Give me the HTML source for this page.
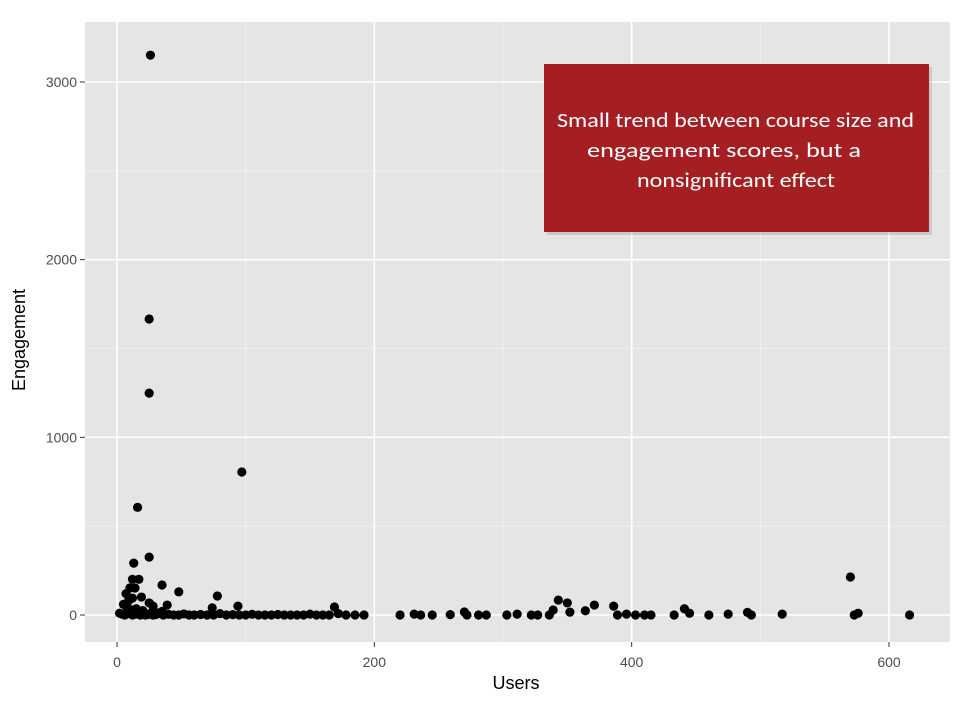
<!DOCTYPE html>
<html><head><meta charset="utf-8">
<style>
html,body{margin:0;padding:0;background:#fff;}
svg{display:block;font-family:"Liberation Sans",Arial,sans-serif;}
</style></head>
<body>
<svg id="chart" width="960" height="720" viewBox="0 0 960 720">
<rect x="85" y="22" width="865" height="620" fill="#e5e5e5"/>
<g id="grid"></g>
<g id="axes"></g>
<g id="points"></g>
<text x="516" y="689" text-anchor="middle" font-size="18" fill="#000">Users</text>
<text transform="translate(25,340) rotate(-90)" text-anchor="middle" font-size="18" fill="#000">Engagement</text>
<g>
<rect x="547" y="67" width="385" height="168" fill="#999" opacity="0.35"/>
<rect x="544" y="64" width="385" height="168" fill="#a51e22"/>
<text x="557" y="127" font-size="21" fill="#fff" textLength="357" lengthAdjust="spacingAndGlyphs" font-family="Carlito,'Liberation Sans',sans-serif">Small trend between course size and</text>
<text x="587" y="157" font-size="21" fill="#fff" textLength="274" lengthAdjust="spacingAndGlyphs" font-family="Carlito,'Liberation Sans',sans-serif">engagement scores, but a</text>
<text x="637" y="187" font-size="21" fill="#fff" textLength="198" lengthAdjust="spacingAndGlyphs" font-family="Carlito,'Liberation Sans',sans-serif">nonsignificant effect</text>
</g>
</svg>
<script>
const xTicks = [0, 200, 400, 600];
const yTicks = [0, 1000, 2000, 3000];
const usersX = [26,25,25,97,16,25,13,12,17,10,14,35,48,78,19,12,25,28,39,35,94,74,169,
  2,4,6,8,10,12,14,16,18,20,22,24,26,28,30,33,36,40,44,48,52,56,60,65,70,75,80,85,90,95,100,105,110,115,120,125,130,135,140,145,150,155,160,165,172,178,185,192,
  5,8,11,9,15,20,30,7,
  220,231,236,245,259,270,272,281,287,303,311,322,327,336,339,343,350,352,364,371,386,389,396,403,410,415,433,441,445,460,475,490,493,517,570,573,576,616];
const engagementY = [3151,1666,1249,805,606,326,292,201,201,152,152,169,130,107,101,95,68,50,56,20,50,40,45,
  10,5,0,8,20,0,5,12,0,6,0,3,10,0,2,8,0,4,0,0,6,0,0,3,0,0,8,0,2,0,0,4,0,0,0,3,0,0,0,0,5,0,0,0,8,0,0,0,
  60,40,30,80,35,25,15,120,
  0,5,0,0,2,17,0,0,0,0,5,0,0,0,28,84,68,16,24,56,50,0,5,0,0,0,0,35,10,0,5,15,0,5,214,0,10,0];
const px0=85, px1=950, py0=22, py1=642;
function xs(v){ return 117 + v*(889-117)/600; }
function ys(v){ return 615 - v*(615-82)/3000; }
const NS="http://www.w3.org/2000/svg";
const grid=document.getElementById('grid'), axes=document.getElementById('axes'), pts=document.getElementById('points');
function mk(tag,attrs,parent){const e=document.createElementNS(NS,tag);for(const k in attrs)e.setAttribute(k,attrs[k]);parent.appendChild(e);return e;}
for(let i=0;i<xTicks.length-1;i++){const v=(xTicks[i]+xTicks[i+1])/2;
  const l=mk('line',{x1:xs(v),x2:xs(v),y1:py0,y2:py1,stroke:'#f2f2f2','stroke-width':0.8},grid);
  
  }
for(let i=0;i<yTicks.length-1;i++){const v=(yTicks[i]+yTicks[i+1])/2;
  const l=mk('line',{x1:px0,x2:px1,y1:ys(v),y2:ys(v),stroke:'#f2f2f2','stroke-width':0.8},grid);
  
  }
xTicks.forEach(v=>{
  const l=mk('line',{x1:xs(v),x2:xs(v),y1:py0,y2:py1,stroke:'#fff','stroke-width':1.6},grid);
  
  
  mk('line',{x1:xs(v),x2:xs(v),y1:py1,y2:py1+5,stroke:'#333','stroke-width':1},axes);
  const t=mk('text',{x:xs(v),y:py1+25,'text-anchor':'middle','font-size':14,fill:'#4d4d4d'},axes);
  t.textContent=v;
  
  
});
yTicks.forEach(v=>{
  const l=mk('line',{x1:px0,x2:px1,y1:ys(v),y2:ys(v),stroke:'#fff','stroke-width':1.6},grid);
  
  
  mk('line',{x1:px0-5,x2:px0,y1:ys(v),y2:ys(v),stroke:'#333','stroke-width':1},axes);
  const t=mk('text',{x:px0-8,y:ys(v)+5,'text-anchor':'end','font-size':14,fill:'#4d4d4d'},axes);
  t.textContent=v;
  
  
});
usersX.forEach((u,i)=>{
  const c=mk('circle',{cx:xs(u),cy:ys(engagementY[i]),r:4.6,fill:'#000'},pts);
  
  
});
</script>
</body></html>
